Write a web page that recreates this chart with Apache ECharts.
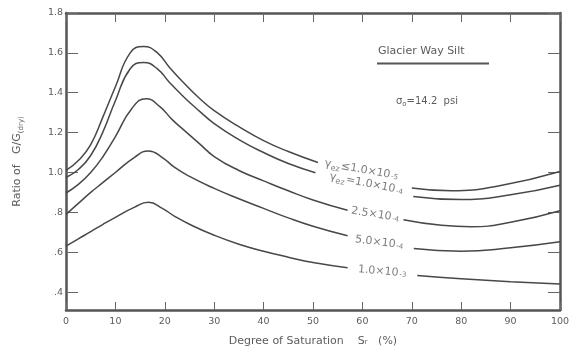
<!DOCTYPE html>
<html>
<head>
<meta charset="utf-8">
<script src="https://cdn.jsdelivr.net/npm/echarts@6/dist/echarts.min.js"></script>
<style>
  html, body { margin: 0; padding: 0; background: #fff; }
  #chart { width: 577px; height: 352px; }
</style>
</head>
<body>
<div id="chart"></div>
<script>
// Degree of saturation (%) against G/G(dry) for five shear strain amplitudes.
// A null value marks the gap where the curve's label sits.
const xA = [0, 2.5, 5, 7.5, 10, 13, 15.7, 18.5, 21, 24, 27, 30, 35, 40, 45, 51, 60, 70, 78, 88, 100];
const yA = [1.01, 1.06, 1.14, 1.28, 1.43, 1.6, 1.632, 1.6, 1.525, 1.445, 1.372, 1.31, 1.23, 1.16, 1.105, 1.05, null, 0.922, 0.908, 0.935, 1.005];

const xB = [0, 2.5, 5, 7.5, 10, 13, 15.7, 18.5, 21, 24, 27, 30, 35, 40, 45, 50.5, 60, 70.3, 80, 90, 100];
const yB = [0.975, 1.015, 1.085, 1.205, 1.36, 1.52, 1.552, 1.52, 1.45, 1.375, 1.308, 1.245, 1.165, 1.1, 1.045, 0.999, null, 0.88, 0.864, 0.888, 0.936];

const xC = [0, 2.5, 5, 7.5, 10, 13.3, 16.2, 19, 21.5, 24, 27, 30, 35, 40, 45, 50, 57, 62, 68.3, 76, 82, 90, 100];
const yC = [0.897, 0.94, 1.0, 1.08, 1.18, 1.32, 1.37, 1.33, 1.265, 1.21, 1.145, 1.08, 1.01, 0.958, 0.908, 0.862, 0.81, null, 0.763, 0.735, 0.728, 0.75, 0.808];

const xD = [0, 2.5, 5, 7.5, 10, 13.8, 16.7, 19.5, 22, 25, 30, 35, 40, 45, 50, 57, 63, 70.4, 80, 90, 100];
const yD = [0.79, 0.845, 0.9, 0.95, 1.0, 1.075, 1.108, 1.075, 1.025, 0.98, 0.92, 0.868, 0.82, 0.772, 0.73, 0.682, null, 0.618, 0.605, 0.622, 0.652];

const xE = [0, 2.5, 5, 7.5, 10, 13.8, 16.7, 19.5, 22, 25, 30, 35, 40, 45, 50, 57, 64, 71.1, 80, 90, 100];
const yE = [0.63, 0.667, 0.703, 0.74, 0.775, 0.825, 0.85, 0.82, 0.78, 0.74, 0.685, 0.64, 0.605, 0.575, 0.548, 0.522, null, 0.483, 0.467, 0.452, 0.44];

// Curve labels: position in data units, tilt in degrees.
const curveLabels = [
  { x: 59.8, y: 1.0135, rot: -10, text: '{g|γ}{s|ez}{t|≤1.0×10}{e|-5}' },
  { x: 60.8, y: 0.944,  rot: -11, text: '{g|γ}{s|ez}{t|=1.0×10}{e|-4}' },
  { x: 62.6, y: 0.789,  rot: -9,  text: '{t|2.5×10}{e|-4}' },
  { x: 63.4, y: 0.649,  rot: -7,  text: '{t|5.0×10}{e|-4}' },
  { x: 64.0, y: 0.503,  rot: -5,  text: '{t|1.0×10}{e|-3}' }
];

const xTicks = [0, 10, 20, 30, 40, 50, 60, 70, 80, 90, 100];
const yTickValues = [0.4, 0.6, 0.8, 1.0, 1.2, 1.4, 1.6, 1.8];
const yTickLabels = ['.4', '.6', '.8', '1.0', '1.2', '1.4', '1.6', '1.8'];

const ink = '#484848';
const textInk = '#5c5c5c';
const font = '"DejaVu Sans", sans-serif';

function pairs(xs, ys) {
  return xs.map((x, i) => (ys[i] == null ? [x, '-'] : [x, ys[i]]));
}

function curve(xs, ys) {
  return {
    type: 'line',
    data: pairs(xs, ys),
    smooth: 0.5,
    showSymbol: false,
    connectNulls: false,
    lineStyle: { color: ink, width: 1.5 },
    silent: true
  };
}

const labelRich = {
  g: { fontSize: 11, color: textInk, fontFamily: font, lineHeight: 15, verticalAlign: 'middle' },
  s: { fontSize: 8, color: textInk, fontFamily: font, lineHeight: 15, verticalAlign: 'bottom', padding: [4, 1, 0, 0] },
  t: { fontSize: 11, color: textInk, fontFamily: font, lineHeight: 15, verticalAlign: 'middle' },
  e: { fontSize: 7, color: textInk, fontFamily: font, lineHeight: 15, verticalAlign: 'middle', padding: [3, 0, 0, 1] }
};

const gridPos = { left: 66, right: 17, top: 13, bottom: 41 };

const chart = echarts.init(document.getElementById('chart'), null, { renderer: 'canvas' });

const yLabelFmt = v => {
  const i = yTickValues.findIndex(t => Math.abs(t - v) < 1e-6);
  return i >= 0 ? yTickLabels[i] : '';
};

chart.setOption({
  animation: false,
  backgroundColor: '#fff',
  grid: gridPos,
  xAxis: [
    {
      type: 'value', min: 0, max: 100, interval: 10, position: 'bottom',
      name: 'Degree of Saturation    S\u1d63   (%)',
      nameLocation: 'middle', nameGap: 26,
      nameTextStyle: { fontFamily: font, fontSize: 11, color: textInk },
      axisLine: { show: true, onZero: false, lineStyle: { color: '#555', width: 2.5 } },
      axisTick: { show: true, inside: true, length: 8, lineStyle: { color: '#666', width: 1 } },
      axisLabel: { show: true, margin: 7, fontFamily: font, fontSize: 9.5, color: textInk,
        customValues: xTicks },
      splitLine: { show: false }
    },
    {
      type: 'value', min: 0, max: 100, interval: 10, position: 'top',
      axisLine: { show: true, onZero: false, lineStyle: { color: '#555', width: 2.5 } },
      axisTick: { show: true, inside: true, length: 9, lineStyle: { color: '#666', width: 1 } },
      axisLabel: { show: false },
      splitLine: { show: false }
    }
  ],
  yAxis: [
    {
      type: 'value', min: 0.31, max: 1.8, position: 'left',
      name: '{n|Ratio of   G/G}{d|(dry)}',
      nameLocation: 'middle', nameGap: 41, nameRotate: 90,
      nameTextStyle: {
        rich: {
          n: { fontFamily: font, fontSize: 11, color: textInk, lineHeight: 15, verticalAlign: 'middle' },
          d: { fontFamily: font, fontSize: 7, color: textInk, lineHeight: 15, verticalAlign: 'bottom', padding: [5, 0, 0, 0] }
        }
      },
      axisLine: { show: true, onZero: false, lineStyle: { color: '#555', width: 2.5 } },
      axisTick: { show: true, inside: true, length: 12, customValues: yTickValues, lineStyle: { color: '#666', width: 1 } },
      axisLabel: { show: true, margin: 3, fontFamily: font, fontSize: 9.5, color: textInk,
        customValues: yTickValues, formatter: yLabelFmt },
      splitLine: { show: false }
    },
    {
      type: 'value', min: 0.31, max: 1.8, position: 'right',
      axisLine: { show: true, onZero: false, lineStyle: { color: '#555', width: 2.5 } },
      axisTick: { show: true, inside: true, length: 12, customValues: yTickValues, lineStyle: { color: '#666', width: 1 } },
      axisLabel: { show: false },
      splitLine: { show: false }
    }
  ],
  graphic: [
    {
      type: 'text', left: 378, top: 46,
      style: { text: 'Glacier Way Silt', fontFamily: font, fontSize: 11, fill: textInk }
    },
    {
      type: 'line', shape: { x1: 377, y1: 63.5, x2: 489, y2: 63.5 },
      style: { stroke: '#555', lineWidth: 2 }
    },
    {
      type: 'text', left: 396, top: 96,
      style: {
        text: '{a|σ}{b|o}{a|=14.2  psi}',
        rich: {
          a: { fontFamily: font, fontSize: 10, fill: textInk, lineHeight: 13, verticalAlign: 'middle' },
          b: { fontFamily: font, fontSize: 7, fill: textInk, lineHeight: 13, verticalAlign: 'bottom', padding: [4, 0, 0, 0] }
        }
      }
    }
  ],
  series: [
    curve(xA, yA),
    curve(xB, yB),
    curve(xC, yC),
    curve(xD, yD),
    curve(xE, yE),
    {
      type: 'scatter',
      symbolSize: 0,
      silent: true,
      data: curveLabels.map(l => ({
        value: [l.x, l.y],
        label: { show: true, position: 'inside', rotate: l.rot, formatter: l.text, rich: labelRich }
      }))
    }
  ]
});
</script>
</body>
</html>
